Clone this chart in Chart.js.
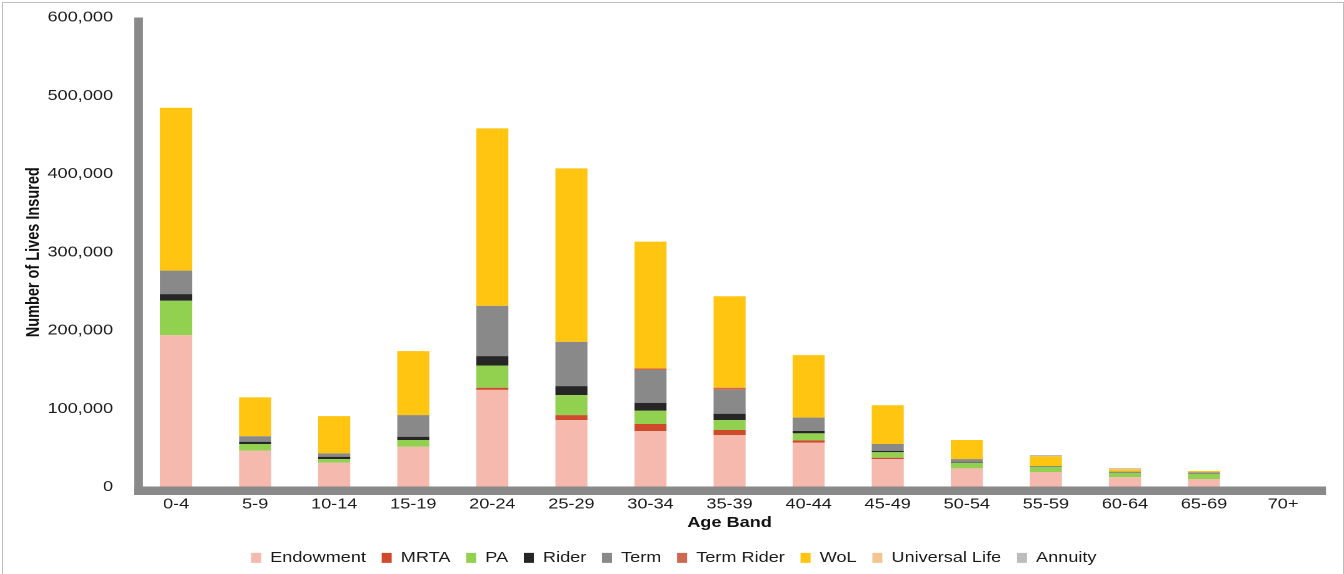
<!DOCTYPE html>
<html>
<head>
<meta charset="utf-8">
<script src="https://cdn.jsdelivr.net/npm/chart.js@4"></script>
<style>
html,body{margin:0;padding:0;background:#fff;overflow:hidden;width:1344px;height:574px;}
#frame{position:absolute;left:2px;top:2px;width:1342px;height:600px;border:1px solid #bdbdbd;box-sizing:border-box;}
#wrap{position:absolute;left:0;top:-10px;width:1075px;height:584px;transform:scaleX(1.25023);transform-origin:0 0;}
</style>
</head>
<body>
<div id="frame"></div>
<div id="wrap"><canvas id="c" width="1075" height="584"></canvas></div>
<script>
const categories = ['0-4','5-9','10-14','15-19','20-24','25-29','30-34','35-39','40-44','45-49','50-54','55-59','60-64','65-69','70+'];
const yTicks = [0,100000,200000,300000,400000,500000,600000];
const xTitle = 'Age Band';
const yTitle = 'Number of Lives Insured';

const endowment     = [194000,46400,31000,51500,124200,85500,71500,66400,56600,35700,23800,19100,12400,10200,0];
const mrta          = [0,0,0,0,2600,6400,9000,6400,3000,1700,0,0,0,0,0];
const pa            = [44000,8500,4700,8500,28500,25500,17000,12700,9000,7000,6800,6400,5500,6400,0];
const rider         = [8500,3000,3000,4200,11900,11500,10000,8100,3000,1700,500,0,0,0,0];
const term          = [30000,7000,4300,27700,64300,56500,42000,30600,17000,8900,4600,1300,1700,2100,0];
const termRider     = [0,0,0,0,0,0,2000,2600,0,0,0,0,0,0,0];
const wol           = [208100,49600,47600,81700,226800,221800,162100,117000,80000,49400,24300,12400,3000,1700,0];
const universalLife = [0,0,0,0,0,0,0,0,0,0,0,0,800,0,0];
const annuity       = [0,0,0,0,0,0,0,0,0,0,0,1700,900,0,0];

const seriesNames  = ['Endowment','MRTA','PA','Rider','Term','Term Rider','WoL','Universal Life','Annuity'];
const seriesValues = [endowment,mrta,pa,rider,term,termRider,wol,universalLife,annuity];
const seriesColors = ['#F5B9AE','#CF4A2C','#92D050','#262626','#898989','#D0684F','#FFC510','#F2C691','#BCBCBC'];

const FONT = "'Liberation Sans', Arial, Helvetica, sans-serif";

const axisLines = {
  id: 'axisLines',
  afterDatasetsDraw(chart) {
    const {ctx, chartArea: a} = chart;
    ctx.save();
    ctx.fillStyle = '#898989';
    ctx.fillRect(a.left - 2, a.top, 7.2, a.bottom + 8 - a.top);
    ctx.fillRect(a.left - 2, a.bottom - 0.5, (a.right + 2.7) - (a.left - 2), 8.5);
    ctx.restore();
  }
};

const legendTweak = {
  id: 'legendTweak',
  afterInit(chart) {
    const lg = chart.legend;
    if (!lg) return;
    const orig = lg.fit;
    lg.fit = function () { orig.call(this); this.height = 36; };
  },
  afterLayout(chart) {
    const lg = chart.legend;
    if (!lg) return;
    lg.left += 10; lg.right += 10;
  }
};

new Chart(document.getElementById('c'), {
  type: 'bar',
  data: {
    labels: categories,
    datasets: seriesNames.map((n, i) => ({
      label: n,
      data: seriesValues[i],
      backgroundColor: seriesColors[i],
      borderWidth: 0,
      barPercentage: 0.405,
      categoryPercentage: 1.0
    }))
  },
  options: {
    responsive: false,
    devicePixelRatio: 2,
    animation: false,
    layout: { padding: { left: 0, right: 17.1, top: 7, bottom: 0 } },
    plugins: {
      tooltip: { enabled: false },
      legend: {
        position: 'bottom',
        labels: {
          boxWidth: 8, boxHeight: 10, padding: 12.6,
          color: '#1a1a1a',
          font: { family: FONT, size: 14.5 }
        }
      }
    },
    scales: {
      x: {
        stacked: true,
        grid: { display: false, drawTicks: false },
        border: { display: false },
        ticks: { color: '#1a1a1a', padding: 9, font: { family: FONT, size: 14.5 }, maxRotation: 0, autoSkip: false },
        title: { display: true, text: xTitle, color: '#111', padding: { top: 0, bottom: 6.3 }, font: { family: FONT, size: 14.5, weight: 'bold' } },
        afterFit(scale) { scale.height = 51; }
      },
      y: {
        stacked: true,
        min: 0, max: 600000,
        afterBuildTicks(scale) { scale.ticks = yTicks.map(v => ({ value: v })); },
        grid: { display: false, drawTicks: false },
        border: { display: false },
        ticks: {
          color: '#1a1a1a', padding: 18.8,
          font: { family: FONT, size: 14.5 },
          callback: v => Number(v).toLocaleString('en-US')
        },
        title: { display: true, text: yTitle, color: '#111', padding: { top: 18.3, bottom: 0 }, font: { family: FONT, size: 14.5, weight: 'bold' } },
        afterFit(scale) { scale.width = 109.2; }
      }
    }
  },
  plugins: [axisLines, legendTweak]
});
</script>
</body>
</html>
